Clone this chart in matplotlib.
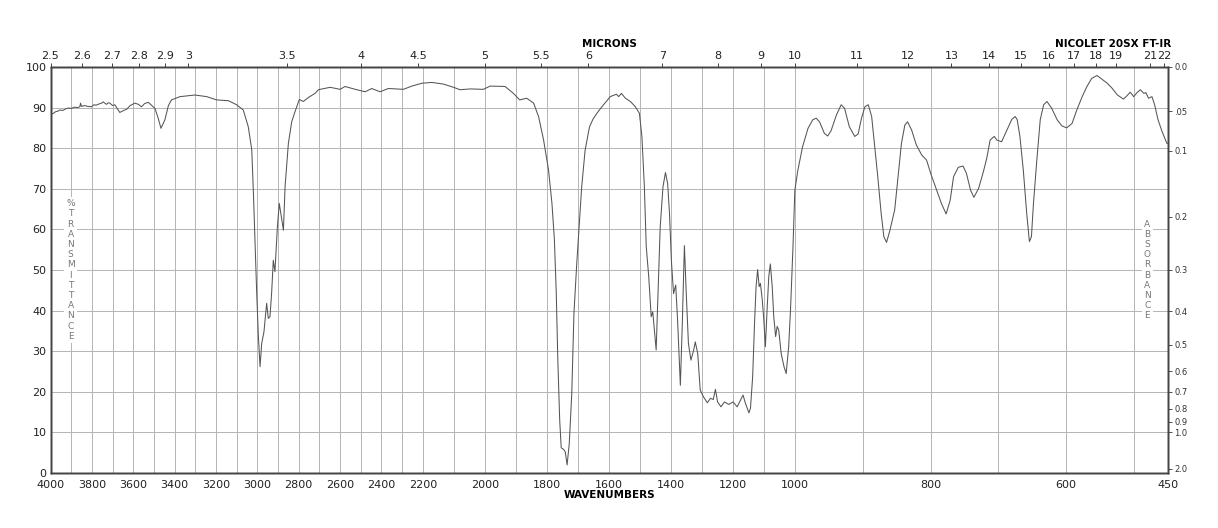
import numpy as np
import matplotlib
matplotlib.use("Agg")
import matplotlib.pyplot as plt

# spectrum: wavenumber (cm-1) and %T
wavenumber = [
    4000, 3985, 3975, 3965, 3955, 3940, 3930, 3915, 3898, 3885, 3870, 3858,
    3855, 3850, 3835, 3820, 3802, 3790, 3780, 3765, 3753, 3745, 3730, 3720,
    3713, 3700, 3689, 3665, 3650, 3632, 3615, 3592, 3575, 3560, 3545, 3527,
    3495, 3480, 3466, 3447,
    3430, 3415, 3374, 3302, 3245, 3197, 3140, 3100, 3068, 3044, 3027, 3019,
    3011, 3003, 2995, 2987, 2979, 2968, 2955, 2947, 2939, 2931, 2923, 2915,
    2903, 2894, 2884, 2874, 2866, 2850, 2834, 2818, 2797, 2778, 2753, 2721,
    2705, 2648, 2600, 2576, 2527, 2479, 2447, 2407, 2367, 2294, 2253, 2205,
    2171, 2134, 2101, 2080, 2047, 2005, 1983, 1935, 1908, 1888, 1865, 1843,
    1827, 1811, 1795, 1784, 1776, 1770, 1765, 1759, 1754, 1746, 1741, 1735,
    1728, 1720, 1713, 1704, 1696, 1688, 1677, 1663, 1652, 1639, 1623, 1596,
    1576, 1569, 1560, 1547, 1531, 1515, 1502, 1494, 1486, 1480, 1472, 1464,
    1459, 1448, 1442, 1435, 1426, 1418, 1411, 1405, 1399, 1392, 1385, 1379,
    1370, 1364, 1357, 1351, 1344, 1336, 1327, 1322, 1314, 1306, 1295, 1283,
    1273, 1264, 1257, 1250, 1239, 1228, 1214, 1200, 1187, 1176, 1168, 1160,
    1149, 1144, 1137, 1131, 1126, 1121, 1116, 1112, 1106, 1101, 1096, 1090,
    1085, 1080, 1074, 1069, 1063, 1058, 1053, 1045, 1036, 1029, 1021, 1015,
    1007, 1001, 996, 989, 981, 974, 969, 964, 957, 952, 947, 939,
    932, 927, 920, 912, 907, 902, 897, 892, 887, 883, 878, 873,
    869, 865, 860, 853, 848, 843, 838, 834, 828, 821, 813, 806,
    799, 791, 784, 777, 771, 766, 759, 752, 747, 741, 736, 729,
    722, 717, 712, 706, 702, 695, 687, 680, 675, 672, 668, 663,
    658, 654, 651, 648, 643, 638, 633, 628, 621, 613, 606, 599,
    591, 584, 576, 569, 562, 554, 547, 539, 532, 524, 515, 510,
    505, 500, 495, 490, 485, 482, 478, 473, 469, 464, 458, 451, 450,
]
transmittance = [
    88.4, 88.6, 89.0, 89.1, 89.4, 89.3, 89.6, 89.9, 89.8, 90.1, 90.0, 90.2,
    91.1, 90.3, 90.5, 90.3, 90.2, 90.7, 90.6, 90.9, 91.1, 91.4, 90.8, 91.2,
    91.1, 90.5, 90.7, 88.8, 89.2, 89.6, 90.5, 91.1, 90.8, 90.2, 91.0, 91.3,
    89.8, 87.5, 84.9, 87.0,
    90.5, 91.9, 92.7, 93.1, 92.7, 91.9, 91.7, 90.7, 89.4, 85.3, 79.6, 68.9,
    56.6, 44.2, 33.6, 26.2, 31.9, 34.8, 41.8, 38.1, 38.5, 44.3, 52.4, 49.6,
    60.7, 66.4, 63.1, 59.8, 70.5, 81.2, 86.5, 89.0, 92.0, 91.5, 92.5, 93.5,
    94.4, 95.0, 94.5, 95.2, 94.5, 93.9, 94.7, 93.9, 94.7, 94.5, 95.3, 96.0,
    96.2, 95.8, 95.0, 94.4, 94.6, 94.5, 95.3, 95.2, 93.5, 91.9, 92.3, 91.1,
    87.8, 82.1, 74.7, 66.5, 57.5, 44.4, 28.0, 13.2, 6.2, 5.8, 5.2, 2.0,
    7.3, 19.6, 39.3, 51.5, 61.0, 70.5, 79.5, 85.2, 87.1, 88.6, 90.2, 92.7,
    93.3, 92.7, 93.5, 92.3, 91.5, 90.2, 88.6, 82.9, 70.5, 55.8, 48.4, 38.5,
    39.7, 30.3, 44.2, 60.6, 70.5, 74.0, 71.3, 63.9, 52.4, 44.2, 46.3, 37.7,
    21.6, 36.1, 56.0, 44.2, 31.9, 27.8, 30.3, 32.3, 29.4, 20.4, 18.7, 17.3,
    18.4, 18.1, 20.6, 17.5, 16.3, 17.5, 16.9, 17.5, 16.3, 18.0, 19.2, 17.1,
    14.8, 16.0, 23.7, 36.8, 45.9, 50.1, 45.9, 46.7, 42.6, 37.7, 31.1, 41.0,
    48.4, 51.5, 45.9, 38.5, 33.6, 36.1, 35.2, 29.4, 26.2, 24.5, 31.1, 40.2,
    55.8, 69.7, 74.6, 80.4, 84.9, 87.0, 87.4, 86.5, 83.7, 83.0, 84.3, 88.2,
    90.7, 89.8, 85.3, 82.9, 83.5, 87.4, 90.2, 90.7, 87.8, 81.2, 73.0, 64.0,
    58.2, 56.8, 59.8, 64.8, 73.0, 81.2, 85.7, 86.5, 84.5, 80.8, 78.3, 77.1,
    73.4, 69.7, 66.4, 63.8, 67.2, 73.0, 75.3, 75.6, 73.8, 69.7, 67.9, 70.1,
    74.2, 77.5, 82.0, 82.9, 82.0, 81.6, 84.5, 87.1, 87.8, 87.0, 82.9, 74.6,
    64.0, 57.0, 58.2, 66.4, 77.1, 87.0, 90.7, 91.5, 89.8, 87.0, 85.5, 85.0,
    86.1, 89.4, 92.7, 95.2, 97.2, 97.9, 97.0, 96.0, 94.8, 93.1, 92.1, 92.9,
    93.8, 92.7, 93.7, 94.4, 93.5, 93.7, 92.3, 92.7, 90.7, 87.0, 84.1, 81.2, 81.2,
]

wn_labels = [4000, 3800, 3600, 3400, 3200, 3000, 2800, 2600, 2400, 2200,
             2000, 1800, 1600, 1400, 1200, 1000, 800, 600, 450]
micron_labels = ["2.5", "2.6", "2.7", "2.8", "2.9", "3", "3.5", "4", "4.5",
                 "5", "5.5", "6", "7", "8", "9", "10", "11", "12", "13", "14",
                 "15", "16", "17", "18", "19", "21", "22"]
abs_labels = ["0.0", ".05", "0.1", "0.2", "0.3", "0.4", "0.5", "0.6", "0.7",
              "0.8", "0.9", "1.0", "2.0"]
abs_values = [0.0, 0.05, 0.1, 0.2, 0.3, 0.4, 0.5, 0.6, 0.7, 0.8, 0.9, 1.0, 2.0]

# chart paper: three equal-width sections 4000-2200, 2200-1000, 1000-450
brk_wn = [450, 1000, 2200, 4000]
brk_u = [0, 1, 2, 3]


def fwd(x):
    return np.interp(x, brk_wn, brk_u)


def inv(u):
    return np.interp(u, brk_u, brk_wn)


W, H = 1218, 528
fig = plt.figure(figsize=(W / 100, H / 100), dpi=100)
ax = fig.add_axes([50.5 / W, 55 / H, 1117 / W, 406 / H])
ax.set_xscale("function", functions=(fwd, inv))
ax.set_xlim(4000, 450)
ax.set_ylim(0, 100)

grid_c = "#b4b4b4"
ax.set_xticks(wn_labels)
ax.set_xticklabels([str(v) for v in wn_labels])
ax.set_xticks([v for v in range(500, 4000, 100) if v not in wn_labels],
              minor=True)
ax.set_yticks(range(0, 101, 10))
ax.grid(axis="x", which="both", color=grid_c, lw=0.7)
ax.grid(axis="y", which="major", color=grid_c, lw=0.7)
ax.tick_params(axis="both", which="both", length=0, labelsize=8, colors="#222")
ax.tick_params(axis="x", pad=5)
ax.tick_params(axis="y", pad=3)

ax.plot(wavenumber, transmittance, color="#555555", lw=0.75)

# micron scale on top
top = ax.twiny()
top.set_xscale("function", functions=(fwd, inv))
top.set_xlim(4000, 450)
top.set_xticks([10000 / float(m) for m in micron_labels])
top.set_xticklabels(micron_labels)
top.set_xticks([], minor=True)
top.tick_params(axis="x", length=3, width=0.6, pad=1.5, labelsize=8,
                colors="#222")

# absorbance scale on the right
right = ax.twinx()
right.set_ylim(0, 100)
right.set_yticks([100 * 10 ** (-a) for a in abs_values])
right.set_yticklabels(abs_labels)
right.tick_params(axis="y", length=3, width=0.6, pad=2, labelsize=6,
                  colors="#333")

for a in (ax, top, right):
    for s in a.spines.values():
        s.set_color("#444")
        s.set_linewidth(1.0)

box = dict(facecolor="white", edgecolor="none", pad=1.5)
ax.text(70.7 / W, 1 - 270 / H, "\n".join("%TRANSMITTANCE"),
        transform=fig.transFigure, ha="center", va="center", fontsize=6.5,
        color="#777", linespacing=1.17, bbox=box)
ax.text(1147.3 / W, 1 - 270 / H, "\n".join("ABSORBANCE"),
        transform=fig.transFigure, ha="center", va="center", fontsize=6.5,
        color="#777", linespacing=1.17, bbox=box)

fig.text(609 / W, 1 - 44 / H, "MICRONS", ha="center", va="center",
         fontsize=7.5, fontweight="bold")
fig.text(1171 / W, 1 - 44 / H, "NICOLET 20SX FT-IR", ha="right",
         va="center", fontsize=7.5, fontweight="bold")
fig.text(609 / W, 1 - 495 / H, "WAVENUMBERS", ha="center", va="center",
         fontsize=7.5, fontweight="bold")

fig.savefig("out.png", dpi=100, facecolor="white")
